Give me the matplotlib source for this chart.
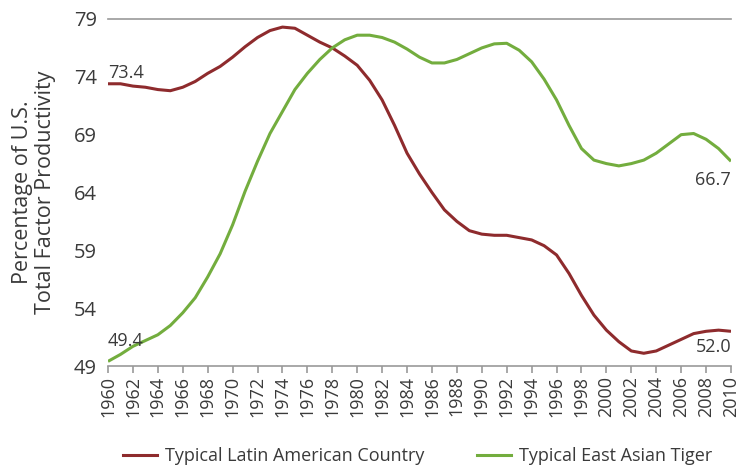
import matplotlib.pyplot as plt
from matplotlib.lines import Line2D

plt.rcParams["font.family"] = ["Open Sans", "DejaVu Sans"]

years = list(range(1960, 2011))

latin = [
    73.4, 73.4, 73.2, 73.1, 72.9, 72.8, 73.1, 73.6, 74.3, 74.9,
    75.7, 76.6, 77.4, 78.0, 78.3, 78.2, 77.6, 77.0, 76.5, 75.8,
    75.0, 73.7, 72.0, 69.8, 67.4, 65.6, 64.0, 62.5, 61.5, 60.7,
    60.4, 60.3, 60.3, 60.1, 59.9, 59.4, 58.6, 57.0, 55.1, 53.4,
    52.1, 51.1, 50.3, 50.1, 50.3, 50.8, 51.3, 51.8, 52.0, 52.1,
    52.0,
]

tiger = [
    49.4, 50.0, 50.7, 51.2, 51.7, 52.5, 53.6, 54.9, 56.7, 58.7,
    61.2, 64.1, 66.7, 69.1, 71.0, 72.9, 74.3, 75.5, 76.5, 77.2,
    77.6, 77.6, 77.4, 77.0, 76.4, 75.7, 75.2, 75.2, 75.5, 76.0,
    76.5, 76.85, 76.9, 76.3, 75.3, 73.8, 72.0, 69.8, 67.8, 66.8,
    66.5, 66.3, 66.5, 66.8, 67.4, 68.2, 69.0, 69.1, 68.6, 67.8,
    66.7,
]

yticks = [49, 54, 59, 64, 69, 74, 79]
xticks = list(range(1960, 2011, 2))

red = "#8e2b2d"
green = "#73ad3e"
txt = "#3a3a3a"

fig = plt.figure(figsize=(7.39, 4.68), dpi=100)
ax = fig.add_axes([108 / 739, 1 - 366 / 468, 623 / 739, 347 / 468])

ax.plot(years, latin, color=red, lw=2.2, solid_capstyle="butt")
ax.plot(years, tiger, color=green, lw=2.2, solid_capstyle="butt")

ax.set_xlim(1960, 2010)
ax.set_ylim(49, 79)
ax.axhline(79, color="#999999", lw=1.2, clip_on=False)

for s in ["left", "right", "top"]:
    ax.spines[s].set_visible(False)
ax.spines["bottom"].set_color("#999999")
ax.spines["bottom"].set_linewidth(1.2)

ax.set_yticks(yticks)
ax.set_yticklabels([str(v) for v in yticks])
ax.tick_params(axis="y", length=0, pad=8, labelsize=14.5, labelcolor=txt)
ax.set_xticks(xticks)
ax.set_xticklabels([str(v) for v in xticks], rotation=90)
ax.tick_params(axis="x", length=5, width=1.2, color="#999999", pad=2,
               labelsize=13, labelcolor=txt)

ax.set_ylabel("Percentage of U.S.\nTotal Factor Productivity", fontsize=15.5,
              color=txt, labelpad=13, linespacing=1.12)

ax.text(1960, latin[0] + 0.15, f"{latin[0]:.1f}", fontsize=13, color=txt,
        ha="left", va="bottom")
ax.text(1960, tiger[0] + 1.0, f"{tiger[0]:.1f}", fontsize=13, color=txt,
        ha="left", va="bottom")
ax.text(2010, tiger[-1] - 0.8, f"{tiger[-1]:.1f}", fontsize=13, color=txt,
        ha="right", va="top")
ax.text(2010, latin[-1] - 0.6, f"{latin[-1]:.1f}", fontsize=13, color=txt,
        ha="right", va="top")

handles = [
    Line2D([], [], color=red, lw=2.2),
    Line2D([], [], color=green, lw=2.2),
]
fig.legend(handles, ["Typical Latin American Country", "Typical East Asian Tiger"],
           loc="center", bbox_to_anchor=(0.565, 1 - 456 / 468), ncol=2,
           frameon=False, fontsize=13, handlelength=1.9, columnspacing=2.9,
           handletextpad=0.45, labelcolor=txt)

fig.savefig("out.png", dpi=100)
